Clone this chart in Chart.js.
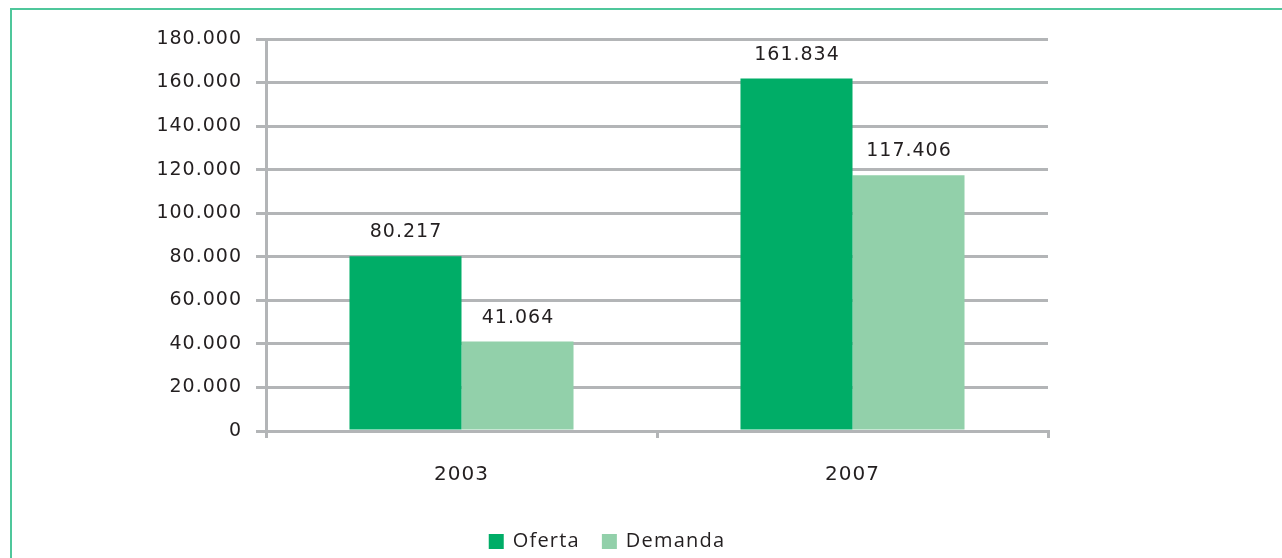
<!DOCTYPE html>
<html>
<head>
<meta charset="utf-8">
<script src="https://cdn.jsdelivr.net/npm/chart.js@4/dist/chart.umd.min.js"></script>
<style>
  html, body { margin: 0; padding: 0; background: #ffffff; overflow: hidden; }
  #wrap { position: relative; width: 1282px; height: 558px; }
  #frame { position: absolute; left: 10px; top: 8px; width: 1400px; height: 700px;
           border-left: 2px solid #4fc79b; border-top: 2px solid #4fc79b; box-sizing: border-box; }
  #c { position: absolute; left: 0; top: 0; }
</style>
</head>
<body>
<div id="wrap">
  <div id="frame"></div>
  <canvas id="c" width="1282" height="558"></canvas>
</div>
<script>
// ---- data ----
const categories = ['2003', '2007'];
const seriesNames = ['Oferta', 'Demanda'];
const oferta = [80217, 161834];
const demanda = [41064, 117406];
const yMin = 0;
const yMax = 180000;
const yStep = 20000;

// ---- style ----
const colOferta = '#00ad67';
const colDemanda = '#92d0aa';
const gridCol = '#b3b5b7';
const textCol = '#231f20';
const FONT = "'DejaVu Sans', sans-serif";
const LEGEND_FONT = "'Open Sans', sans-serif";

function fmt(v) {
  return String(Math.round(v)).replace(/\B(?=(\d{3})+(?!\d))/g, '.');
}

function setSpacing(chart) {
  try { chart.ctx.letterSpacing = '1px'; } catch (e) {}
}

const spacingPlugin = {
  id: 'spacing',
  beforeLayout: setSpacing,
  beforeDraw: setSpacing
};

const valueLabels = {
  id: 'valueLabels',
  afterDatasetsDraw(chart) {
    const ctx = chart.ctx;
    ctx.save();
    ctx.letterSpacing = '1px';
    ctx.font = '19px ' + FONT;
    ctx.fillStyle = textCol;
    ctx.textAlign = 'center';
    ctx.textBaseline = 'alphabetic';
    chart.data.datasets.forEach((ds, i) => {
      const meta = chart.getDatasetMeta(i);
      meta.data.forEach((bar, j) => {
        ctx.fillText(fmt(ds.data[j]), bar.x + 0.5, bar.y - 19);
      });
    });
    ctx.restore();
  }
};

const customLegend = {
  id: 'customLegend',
  afterDraw(chart) {
    const ctx = chart.ctx;
    ctx.save();
    ctx.letterSpacing = '1.2px';
    ctx.font = '20px ' + LEGEND_FONT;
    ctx.textBaseline = 'middle';
    ctx.textAlign = 'left';
    const box = 15, gapText = 9, gapItem = 22;
    const items = chart.data.datasets.map(ds => ({ label: ds.label, color: ds.backgroundColor, w: ctx.measureText(ds.label).width }));
    let total = 0;
    items.forEach((it, i) => { total += box + gapText + it.w + (i < items.length - 1 ? gapItem : 0); });
    let x = 607 - total / 2;
    const cy = 541.5;
    items.forEach(it => {
      ctx.fillStyle = it.color;
      ctx.fillRect(x, cy - box / 2, box, box);
      ctx.fillStyle = textCol;
      ctx.fillText(it.label, x + box + gapText, cy);
      x += box + gapText + it.w + gapItem;
    });
    ctx.restore();
  }
};

new Chart(document.getElementById('c'), {
  type: 'bar',
  data: {
    labels: categories,
    datasets: [
      { label: seriesNames[0], data: oferta, backgroundColor: colOferta, borderWidth: 0,
        categoryPercentage: 0.573, barPercentage: 1.0 },
      { label: seriesNames[1], data: demanda, backgroundColor: colDemanda, borderWidth: 0,
        categoryPercentage: 0.573, barPercentage: 1.0 }
    ]
  },
  options: {
    responsive: false,
    devicePixelRatio: 1,
    animation: false,
    layout: { padding: { left: 0, right: 234, top: 39, bottom: 0 } },
    plugins: {
      legend: { display: false },
      tooltip: { enabled: false }
    },
    scales: {
      x: {
        grid: { display: true, drawOnChartArea: false, drawTicks: true, tickLength: 7,
                color: gridCol, lineWidth: 3, offset: true },
        border: { display: true, color: gridCol, width: 3 },
        ticks: { color: textCol, font: { family: FONT, size: 20 }, padding: 25, maxRotation: 0 },
        afterFit(scale) { scale.height = 127; }
      },
      y: {
        min: yMin, max: yMax,
        grid: { color: gridCol, lineWidth: 3, drawTicks: true, tickLength: 10 },
        border: { display: true, color: gridCol, width: 3 },
        ticks: { stepSize: yStep, color: textCol, font: { family: FONT, size: 19 }, padding: 14,
                 callback: (v) => fmt(v) },
        afterFit(scale) { scale.width = 266; }
      }
    }
  },
  plugins: [spacingPlugin, valueLabels, customLegend]
});
</script>
</body>
</html>
